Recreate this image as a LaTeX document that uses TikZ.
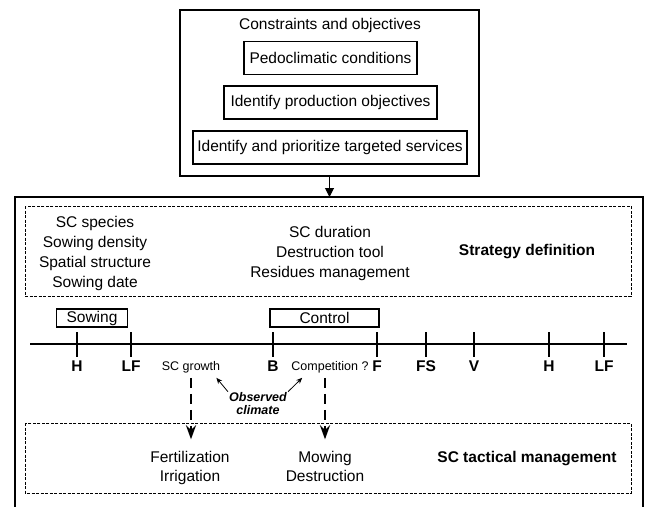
\documentclass[tikz,border=0pt]{standalone}
\usepackage{fontspec}
\setmainfont{Liberation Sans}
\usepackage{tikz}
\usetikzlibrary{arrows.meta}
\usetikzlibrary{positioning}

\begin{document}
\begin{tikzpicture}[x=1pt, y=-1pt, font=\fontsize{15.5}{20}\selectfont,
    box/.style={draw, line width=1.5pt, inner xsep=2pt, inner ysep=0pt, minimum height=33pt},
    phase/.style={draw, line width=1.2pt, inner xsep=10pt, inner ysep=0pt, minimum height=18pt},
    zone/.style={draw, dash pattern=on 3pt off 1.5pt, line width=0.8pt},
    stage/.style={font=\fontsize{15.5}{18}\selectfont\bfseries, anchor=base},
    small/.style={font=\fontsize{12.5}{13}\selectfont, inner sep=1pt},
    action/.style={align=center, font=\fontsize{15.5}{19}\selectfont, text depth=4pt},
    dasharrow/.style={line width=2.5pt, dash pattern=on 10pt off 6pt, -{Stealth[length=14pt, width=10pt]}},
    obsarrow/.style={line width=0.8pt, -{Stealth[length=6pt, width=5pt]}}]
    \useasboundingbox (0,0) rectangle (645,506);

    % constraints and objectives
    \node[draw, line width=1.5pt, minimum width=299pt, minimum height=166pt, inner sep=0pt] (constr) at (329.5,93) {};
    \node (title) at (330,25) {Constraints and objectives};
    \node[box, minimum width=173pt] (pedo) at (330.5,58) {Pedoclimatic conditions};
    \node[box, minimum width=213pt] (prod) at (330.5,102.5) {Identify production objectives};
    \node[box, minimum width=274pt] (serv) at (330,147.5) {Identify and prioritize targeted services};

    % management frame
    \draw[line width=1.5pt] (15,510) |- (643,197) -- (643,510);
    \coordinate (entry) at (330,197);
    \draw[line width=1pt, -{Triangle[length=9pt, width=9pt]}] (constr.south) -- (constr.south |- entry);

    \draw[zone] (25,206) rectangle (631,296);
    \draw[zone] (25,423) rectangle (631,493);

    \node[align=center] (choice) at (95,253) {SC species\\Sowing density\\Spatial structure\\Sowing date};
    \node[align=center] (end) at (330,253) {SC duration\\Destruction tool\\Residues management};
    \node[font=\fontsize{15.5}{18}\selectfont\bfseries] (strat) at (527,252) {Strategy definition};

    % timeline
    \draw[line width=2.5pt] (30,344) coordinate (t0) -- (627,344) coordinate (t1);
    \foreach \x/\lab/\nm in {77/H/h1, 131/LF/lf1, 273/B/b, 377/F/f, 426/FS/fs, 474/V/v, 549/H/h2, 604/LF/lf2} {
        \draw[line width=2.5pt] (\x,332) -- (\x,357);
        \node[stage] (\nm) at (\x,371) {\lab};
    }
    \node[phase] (sowing) at (92,318) {Sowing};
    \node[phase, minimum width=109pt] (control) at (324.5,318) {Control};

    \node[small, anchor=base] (scg) at (191,370) {SC growth};
    \node[small, anchor=base] (comp) at (330,370) {Competition ?};
    \node[small, font=\fontsize{12.5}{13}\selectfont\bfseries\itshape, align=center] (obs) at (258,404) {Observed\\climate};
    \draw[obsarrow] (obs.north west) -- ([xshift=-5pt, yshift=-4pt]scg.south east);
    \draw[obsarrow] (obs.north east) -- ([xshift=12pt, yshift=-4pt]comp.south west);

    % tactical management
    \node[action] (fert) at (190,468) {Fertilization\\Irrigation};
    \node[action] (mow) at (325,468) {Mowing\\Destruction};
    \node[font=\fontsize{15.5}{18}\selectfont\bfseries] (tact) at (527,459) {SC tactical management};

    \draw[dasharrow, shorten <=4pt, shorten >=8pt] (scg.south) -- (scg.south |- fert.north);
    \draw[dasharrow, shorten <=4pt, shorten >=8pt] (mow.north |- comp.south) -- (mow.north);
\end{tikzpicture}
\end{document}
